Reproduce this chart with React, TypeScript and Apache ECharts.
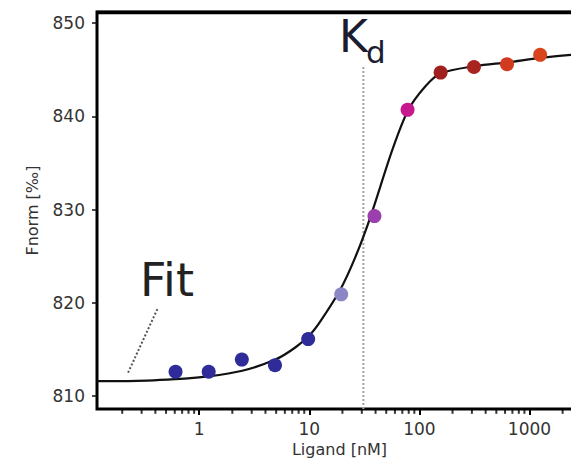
import React, { useEffect, useRef } from "react";
import * as echarts from "echarts";

// Measured points (serial dilution)
const concentrations = [0.61, 1.22, 2.44, 4.88, 9.77, 19.5, 39.1, 78.1, 156, 313, 625, 1250];
const fnorm = [812.6, 812.6, 813.9, 813.3, 816.1, 820.9, 829.3, 840.7, 844.7, 845.3, 845.6, 846.6];
const pointColors = [
  "#2f2b98", "#2f2b98", "#2f2b98", "#2f2b98", "#2f2b98",
  "#8b86c6", "#9c3fae", "#c4188c", "#a11f1e", "#a9231f", "#d33a22", "#d8451d",
];

// Fit curve
const fitX = [0.118, 0.226, 0.605, 1.21, 2.46, 4.91, 7.46, 10.2, 12.6, 19.1, 26.2, 35.9, 56.8, 79.4, 113, 155, 323, 632, 1313, 3000];
const fitY = [811.6, 811.6, 811.8, 812.1, 812.7, 813.9, 815.2, 816.6, 818.0, 821.4, 824.9, 829.2, 836.4, 840.7, 843.2, 844.6, 845.4, 845.8, 846.3, 846.7];

// Annotations
const kdValue = 31;
const kdLineY = [808.6, 845.3];
const fitPointerX = [0.226, 0.424];
const fitPointerY = [812.5, 819.5];

// Axes
const xMin = 0.118;
const xMax = 3000;
const yMin = 808.6;
const yMax = 851.2;
const yTicks = [810, 820, 830, 840, 850];
const minorMultipliers = [2, 3, 4, 5, 6, 7, 8, 9];
const minorDecades = [0.1, 1, 10, 100, 1000];

export default function App() {
  const ref = useRef<HTMLDivElement>(null);

  useEffect(() => {
    if (!ref.current) return;
    const chart = echarts.init(ref.current, null, { renderer: "svg" });

    const minorTicks: number[] = [];
    minorDecades.forEach((d) =>
      minorMultipliers.forEach((m) => {
        const v = d * m;
        if (v > xMin && v < xMax) minorTicks.push(v);
      })
    );

    const font = "DejaVu Sans";

    chart.setOption({
      animation: false,
      backgroundColor: "#ffffff",
      grid: {
        left: 97,
        right: -11,
        top: 12,
        bottom: 59,
        outerBoundsMode: "none",
        show: true,
        borderColor: "#000",
        borderWidth: 3,
      },
      xAxis: {
        type: "log",
        logBase: 10,
        min: xMin,
        max: xMax,
        axisLine: { show: true, onZero: false, lineStyle: { color: "#000", width: 2 } },
        axisTick: { show: true, length: 6, lineStyle: { color: "#000", width: 2 } },
        splitLine: { show: false },
        axisLabel: {
          showMinLabel: false,
          showMaxLabel: false,
          margin: 11,
          fontSize: 17,
          fontFamily: font,
          color: "#333",
          formatter: (v: number) => String(Math.round(v)),
        },
        name: "Ligand [nM]",
        nameLocation: "middle",
        nameGap: 32,
        nameTextStyle: { fontSize: 16, fontFamily: font, color: "#333" },
      },
      yAxis: {
        type: "value",
        min: yMin,
        max: yMax,
        axisLine: { show: true, onZero: false, lineStyle: { color: "#000", width: 2 } },
        axisTick: { show: true, length: 5, customValues: yTicks, lineStyle: { color: "#111", width: 1.5 } },
        axisLabel: {
          customValues: yTicks,
          margin: 12,
          fontSize: 17,
          fontFamily: font,
          color: "#333",
        },
        splitLine: { show: false },
        name: "Fnorm [‰]",
        nameLocation: "middle",
        nameGap: 57,
        nameTextStyle: { fontSize: 16, fontFamily: font, color: "#333" },
      },
      series: [
        {
          type: "line",
          data: [[xMin * 1.001, yMax - 0.1], [xMax * 0.999, yMax - 0.1]],
          symbol: "none",
          clip: false,
          lineStyle: { color: "#000", width: 2.5 },
        },
        {
          type: "scatter",
          data: minorTicks.map((v) => [v, yMin + 0.02]),
          symbol: "rect",
          symbolSize: [2, 4],
          symbolOffset: [0, 3],
          clip: false,
          itemStyle: { color: "#000" },
        },
        {
          type: "line",
          data: kdLineY.map((y) => [kdValue, y]),
          symbol: "none",
          lineStyle: { color: "#a0a0a0", width: 2, type: "dotted" },
          z: 1,
        },
        {
          type: "line",
          data: fitPointerX.map((x, i) => [x, fitPointerY[i]]),
          symbol: "none",
          lineStyle: { color: "#555", width: 2, type: "dotted" },
          z: 1,
        },
        {
          type: "line",
          data: fitX.map((x, i) => [x, fitY[i]]),
          symbol: "none",
          smooth: 0.3,
          lineStyle: { color: "#111", width: 2.2 },
          z: 2,
        },
        {
          type: "scatter",
          symbolSize: 14,
          data: concentrations.map((c, i) => ({
            value: [c, fnorm[i]],
            itemStyle: { color: pointColors[i], opacity: 1 },
          })),
          z: 3,
        },
      ],
      graphic: [
        {
          type: "line",
          shape: { x1: 96, y1: 12, x2: 571, y2: 12 },
          style: { stroke: "#000", lineWidth: 2.5 },
        },
        {
          type: "text",
          left: 140,
          top: 257,
          style: { text: "Fit", fontSize: 46, fontFamily: font, fill: "#222" },
        },
        {
          type: "text",
          left: 339,
          top: 14,
          style: { text: "K", fontSize: 44, fontFamily: font, fill: "#1c1c30" },
        },
        {
          type: "text",
          left: 366,
          top: 36,
          style: { text: "d", fontSize: 31, fontFamily: font, fill: "#1c1c30" },
        },
      ],
    });

    return () => chart.dispose();
  }, []);

  return <div ref={ref} style={{ width: 571, height: 468, position: "absolute", left: 0, top: 0 }} />;
}
